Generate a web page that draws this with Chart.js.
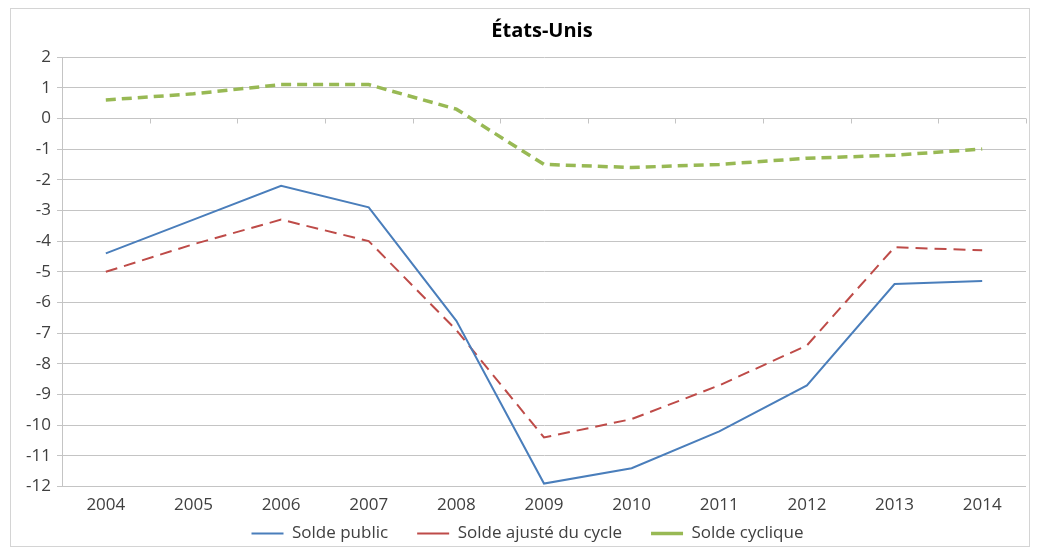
<!DOCTYPE html>
<html>
<head>
<meta charset="utf-8">
<script src="https://cdn.jsdelivr.net/npm/chart.js@4/dist/chart.umd.min.js"></script>
<style>
  html, body { margin: 0; padding: 0; background: #fff; }
  #wrap { position: relative; width: 1037px; height: 549px; }
</style>
</head>
<body>
<div id="wrap"><canvas id="chart"></canvas></div>
<script>
// Budget balances, United States, % of GDP
const years = ['2004', '2005', '2006', '2007', '2008', '2009', '2010', '2011', '2012', '2013', '2014'];
const soldePublic = [-4.4, -3.3, -2.2, -2.9, -6.6, -11.9, -11.4, -10.2, -8.7, -5.4, -5.3];
const soldeAjuste = [-5.0, -4.1, -3.3, -4.0, -6.9, -10.4, -9.8, -8.7, -7.4, -4.2, -4.3];
const soldeCyclique = [0.6, 0.8, 1.1, 1.1, 0.3, -1.5, -1.6, -1.5, -1.3, -1.2, -1.0];

const FONT = "'Open Sans', sans-serif";
const gridColor = '#c4c4c4';

// Thin frame around the whole chart
const framePlugin = {
  id: 'frame',
  beforeDraw(chart) {
    const ctx = chart.ctx;
    ctx.save();
    ctx.strokeStyle = '#d4d4d4';
    ctx.lineWidth = 1;
    ctx.strokeRect(10.5, 8.5, 1019, 538);
    ctx.restore();
  }
};

// Category tick marks sitting on the zero line
const zeroTicksPlugin = {
  id: 'zeroTicks',
  beforeDatasetsDraw(chart) {
    const x = chart.scales.x;
    const y0 = Math.round(chart.scales.y.getPixelForValue(0)) + 0.5;
    const step = x.getPixelForValue(1) - x.getPixelForValue(0);
    const ctx = chart.ctx;
    ctx.save();
    ctx.strokeStyle = gridColor;
    ctx.lineWidth = 1;
    ctx.beginPath();
    for (let i = 0; i <= years.length; i++) {
      const px = Math.round(x.getPixelForValue(i) - step / 2) + 0.5;
      ctx.moveTo(px, y0);
      ctx.lineTo(px, y0 + 5);
    }
    ctx.stroke();
    ctx.restore();
  }
};

// Pull the legend up under the axis labels and nudge title/legend sideways
const shiftPlugin = {
  id: 'shift',
  afterLayout(chart) {
    const lg = chart.legend;
    const h = lg.bottom - lg.top;
    lg.top = 496;
    lg.bottom = 496 + h;
    lg.left += 17;
    chart.titleBlock.left += 46;
  }
};

new Chart(document.getElementById('chart'), {
  type: 'line',
  data: {
    labels: years,
    datasets: [{
      label: 'Solde public',
      data: soldePublic,
      borderColor: '#4a7ebb',
      backgroundColor: '#4a7ebb',
      borderWidth: 2,
      pointRadius: 0,
      pointStyle: 'line',
      tension: 0
    }, {
      label: 'Solde ajusté du cycle',
      data: soldeAjuste,
      borderColor: '#be4b48',
      backgroundColor: '#be4b48',
      borderWidth: 2,
      borderDash: [12, 7],
      pointRadius: 0,
      pointStyle: 'line',
      tension: 0
    }, {
      label: 'Solde cyclique',
      data: soldeCyclique,
      borderColor: '#98b954',
      backgroundColor: '#98b954',
      borderWidth: 3.5,
      borderDash: [10, 6],
      pointRadius: 0,
      pointStyle: 'line',
      tension: 0
    }]
  },
  options: {
    responsive: true,
    maintainAspectRatio: false,
    animation: false,
    layout: {
      padding: { left: 12, right: 11, top: 0, bottom: -22 }
    },
    plugins: {
      title: {
        display: true,
        text: 'États-Unis',
        color: '#000',
        font: { family: FONT, size: 20, weight: 'bold' },
        padding: { top: 19, bottom: 14 }
      },
      legend: {
        position: 'bottom',
        labels: {
          color: '#404040',
          font: { family: FONT, size: 17 },
          usePointStyle: true,
          pointStyleWidth: 32,
          boxHeight: 8,
          padding: 29
        }
      },
      tooltip: { enabled: false }
    },
    scales: {
      x: {
        offset: true,
        grid: { display: false },
        border: { display: false },
        ticks: {
          color: '#404040',
          font: { family: FONT, size: 17 },
          padding: 0,
          maxRotation: 0
        }
      },
      y: {
        min: -12,
        max: 2,
        afterFit(scale) { scale.width = 50; },
        grid: {
          color: gridColor,
          tickLength: 5
        },
        border: { display: true, color: gridColor },
        ticks: {
          stepSize: 1,
          color: '#404040',
          font: { family: FONT, size: 17 },
          padding: 6
        }
      }
    }
  },
  plugins: [framePlugin, zeroTicksPlugin, shiftPlugin]
});
</script>
</body>
</html>
